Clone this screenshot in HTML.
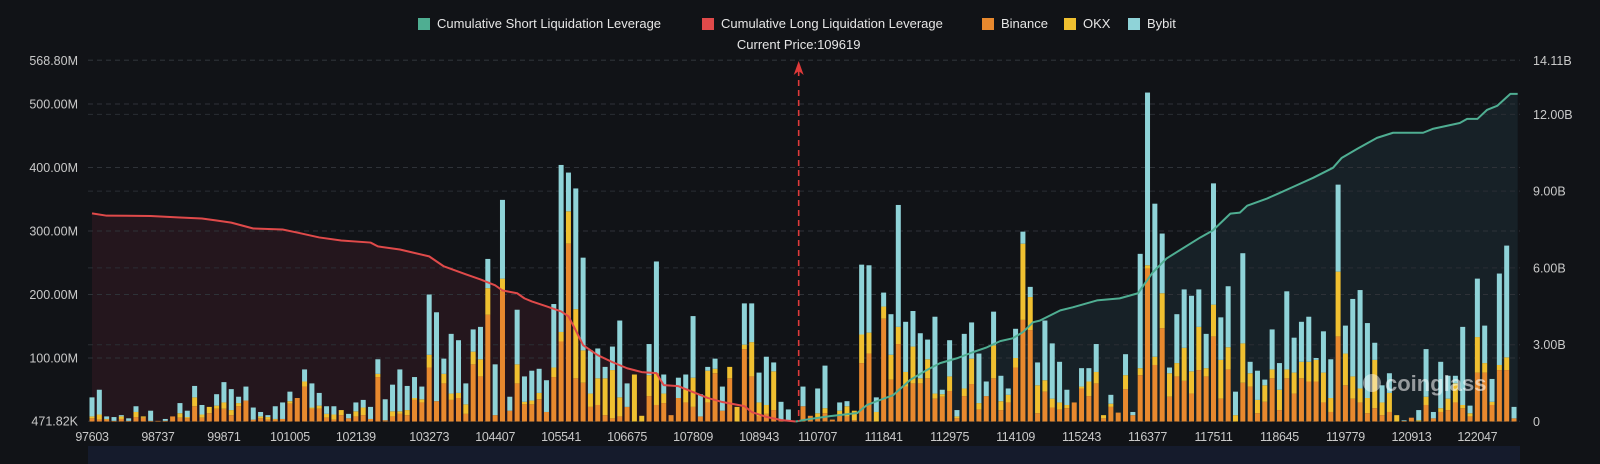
<!DOCTYPE html>
<html><head><meta charset="utf-8">
<style>
html,body{margin:0;padding:0;background:#111317;}
body{width:1600px;height:464px;overflow:hidden;position:relative;font-family:"Liberation Sans",sans-serif;}
#chart{position:absolute;left:0;top:0;}
.legend{position:absolute;top:16px;left:0;width:1600px;height:18px;}
.lg{position:absolute;top:0;display:flex;align-items:center;color:#e6e6e6;font-size:13px;white-space:nowrap;}
.sw{width:12px;height:12px;margin-right:7px;display:inline-block;}
</style></head>
<body>
<div class="legend">
 <div class="lg" style="left:418px"><span class="sw" style="background:#4fae92"></span>Cumulative Short Liquidation Leverage</div>
 <div class="lg" style="left:702px"><span class="sw" style="background:#e04a4a"></span>Cumulative Long Liquidation Leverage</div>
 <div class="lg" style="left:982px"><span class="sw" style="background:#e8892e"></span>Binance</div>
 <div class="lg" style="left:1064px"><span class="sw" style="background:#f0c030"></span>OKX</div>
 <div class="lg" style="left:1128px"><span class="sw" style="background:#8fd3d8"></span>Bybit</div>
</div>
<svg id="chart" width="1600" height="464" xmlns="http://www.w3.org/2000/svg"></svg>
<script>
const binance=[5,3,3,1,4,1,7,6,1,1,1,8,6,5,24,6,13,20,20,10,24,33,3,5,3,3,4,28,37,55,20,20,6,3,10,5,8,10,4,70,2,8,12,10,34,30,85,32,60,34,37,12,90,71,168,10,205,17,60,27,27,35,15,70,126,280,68,61,23,26,10,5,8,23,0,0,40,26,29,10,37,30,23,8,30,76,17,68,0,114,71,8,12,18,3,2,0,24,9,7,13,3,10,8,2,92,107,0,162,66,122,55,60,60,68,36,39,48,5,40,59,19,40,68,18,30,85,160,144,13,47,22,19,21,30,52,40,60,5,23,14,51,10,73,241,89,147,39,71,64,44,81,71,134,36,82,0,61,55,13,31,68,18,68,44,68,63,63,30,15,134,57,36,30,13,21,10,15,0,1,6,0,26,5,15,18,30,21,8,77,77,26,81,81,5];
const okx=[3,8,1,0,4,0,8,2,0,0,0,0,7,2,14,5,10,5,10,8,5,0,0,3,4,1,0,4,0,8,2,5,6,8,8,0,8,12,0,5,0,8,4,8,3,5,20,0,15,10,8,15,20,27,42,0,20,0,30,4,6,10,0,15,15,51,109,51,21,42,58,76,30,0,74,9,33,50,15,0,0,22,46,0,50,7,0,18,23,7,54,22,14,61,0,0,0,0,0,6,8,0,7,16,15,45,33,15,19,39,27,23,58,8,30,8,4,23,3,12,40,10,0,52,14,12,15,120,52,44,18,14,11,5,0,3,23,18,5,5,0,22,0,11,5,13,55,37,21,52,35,68,13,50,61,35,10,62,21,21,26,14,32,14,33,26,31,34,47,22,102,50,35,22,24,76,20,30,10,0,0,2,13,0,6,18,30,5,5,56,15,5,8,20,0];
const bybit=[30,39,4,6,2,4,9,0,16,0,3,0,16,10,18,15,0,18,32,33,10,22,19,7,3,20,26,15,0,19,38,20,12,13,0,7,14,12,19,23,33,42,66,38,33,20,95,140,24,94,83,33,35,51,46,80,124,22,86,40,47,38,50,100,263,61,190,146,68,47,18,37,121,37,0,0,49,176,30,0,32,22,97,35,6,16,38,0,0,65,61,47,76,14,28,17,0,31,0,39,67,0,13,8,0,110,106,23,22,64,192,79,56,71,31,121,7,57,10,86,57,78,23,53,40,10,46,19,16,36,94,87,64,24,0,29,21,44,0,14,0,33,5,180,272,241,94,9,77,92,119,59,54,191,67,96,37,142,18,46,9,63,42,123,55,63,71,3,65,61,137,44,122,155,118,27,27,31,0,1,0,16,75,10,73,36,12,123,12,92,59,36,144,176,18];
const longIdx=[0,2,8,12,15,17,19,22,26,28,31,34,38,39,42,46,48,51,53,55,56,58,59,60,62,64,65,66,67,69,71,73,75,77,78,80,82,84,86,89,90,92,94,96];
const longVal=[8.13,8.04,8.03,7.97,7.93,7.85,7.77,7.54,7.50,7.38,7.19,7.07,6.99,6.84,6.72,6.45,6.06,5.75,5.55,5.32,5.12,5.01,4.81,4.69,4.50,4.30,4.11,3.56,2.98,2.59,2.32,2.08,1.93,1.89,1.42,1.38,1.15,0.92,0.76,0.60,0.37,0.18,0.06,0];
const shortIdx=[96,98,100.7,104.4,105.7,107.5,109.3,111.6,113.9,115.7,118,120.2,122.1,123.9,125.6,127,128.4,129.3,132.1,133.8,137.1,140.2,142.7,144.7,146.6,151.2,152.9,155.3,156.6,157.6,160.3,161.8,163.9,166.6,169.3,170.5,172.6,175.3,177.5,181.6,182.9,186.6,187.6,189,190.3,191.7,193.5,194.5];
const shortVal=[0,0.1,0.21,0.33,0.64,0.84,1.03,1.62,2.01,2.28,2.47,2.71,2.90,3.14,3.25,3.49,3.88,3.94,4.34,4.46,4.73,4.81,5.01,5.82,6.37,7.19,7.46,8.12,8.16,8.43,8.71,8.90,9.17,9.52,9.91,10.3,10.65,11.08,11.28,11.28,11.43,11.66,11.82,11.82,12.17,12.33,12.8,12.8];
const xTickIdx=[0,9,18,27,36,46,55,64,73,82,91,99,108,117,126,135,144,153,162,171,180,189];
const xTickLabels=["97603","98737","99871","101005","102139","103273","104407","105541","106675","107809","108943","110707","111841","112975","114109","115243","116377","117511","118645","119779","120913","122047"];
const leftTickVals=[0.47182,100,200,300,400,500,568.8];
const leftTickLabels=["471.82K","100.00M","200.00M","300.00M","400.00M","500.00M","568.80M"];
const rightTickVals=[0,3,6,9,12,14.11];
const rightTickLabels=["0","3.00B","6.00B","9.00B","12.00B","14.11B"];
const currentIdx=96;
const currentPriceLabel="Current Price:109619";

const NS="http://www.w3.org/2000/svg";
const svg=document.getElementById('chart');
const X0=92,PITCH=7.33,BASE=421.5,TOP=60.3,PL=88,PR=1520;
const xs=i=>X0+i*PITCH;
const yL=v=>BASE-v*(BASE-TOP)/568.8;
const yR=v=>BASE-v*(BASE-TOP)/14.11;
function mk(tag,attrs){const e=document.createElementNS(NS,tag);for(const k in attrs)e.setAttribute(k,attrs[k]);svg.appendChild(e);return e;}

let band=mk('rect',{x:PL,y:446,width:PR-PL,height:18,fill:'#151b2c'});



let lp=`M${xs(longIdx[0])},${BASE} `+longIdx.map((d,k)=>`L${xs(d)},${yR(longVal[k])}`).join(' ')+` L${xs(longIdx[longIdx.length-1])},${BASE} Z`;
let lf=mk('path',{d:lp,fill:'#24161d'});


let sp=`M${xs(shortIdx[0])},${BASE} `+shortIdx.map((d,k)=>`L${xs(d)},${yR(shortVal[k])}`).join(' ')+` L${xs(shortIdx[shortIdx.length-1])},${BASE} Z`;
let sf=mk('path',{d:sp,fill:'#172127'});



leftTickVals.forEach((v,k)=>{
  let g=mk('line',{x1:PL,x2:PR,y1:yL(v),y2:yL(v),stroke:'#2e3238','stroke-dasharray':'5,4','stroke-width':1});
  
  
  let t=mk('text',{x:78,y:yL(v)+4.5,'text-anchor':'end',fill:'#c9c9c9','font-size':'12.5'});
  t.textContent=leftTickLabels[k];
  
  
});
rightTickVals.forEach((v,k)=>{
  if(k>0){let g=mk('line',{x1:PL,x2:PR,y1:yR(v),y2:yR(v),stroke:'#2a2e34','stroke-dasharray':'5,4','stroke-width':1});
  
  }
  let t=mk('text',{x:1533,y:yR(v)+4.5,'text-anchor':'start',fill:'#c9c9c9','font-size':'12.5'});
  t.textContent=rightTickLabels[k];
  
  
});

const BW=5;
for(let i=0;i<binance.length;i++){
  const x=xs(i)-BW/2;
  let y=BASE;
  [[binance[i],'#e8892e','bar-binance'],[okx[i],'#f0c030','bar-okx'],[bybit[i],'#8fd3d8','bar-bybit']].forEach(s=>{
    if(s[0]<=0)return;
    const h=BASE-yL(s[0]);
    y-=h;
    let r=mk('rect',{x:x,y:y,width:BW,height:h,fill:s[1]});
    
    
  });
}

let ll=mk('polyline',{points:longIdx.map((d,k)=>`${xs(d)},${yR(longVal[k])}`).join(' '),fill:'none',stroke:'#e04a4a','stroke-width':2,'stroke-linejoin':'round'});


let sl=mk('polyline',{points:shortIdx.map((d,k)=>`${xs(d)},${yR(shortVal[k])}`).join(' '),fill:'none',stroke:'#4fae92','stroke-width':2,'stroke-linejoin':'round'});



const ax=xs(currentIdx)+3;
let al=mk('line',{x1:ax,x2:ax,y1:70,y2:BASE,stroke:'#e03a3a','stroke-width':1.6,'stroke-dasharray':'6,4'});


let ah=mk('path',{d:`M${ax},61 L${ax-5},75 L${ax},71 L${ax+5},75 Z`,fill:'#e03a3a'});


let ct=mk('text',{x:ax,y:49,'text-anchor':'middle',fill:'#e6e6e6','font-size':'13'});
ct.textContent=currentPriceLabel;



xTickIdx.forEach((d,k)=>{
  let t=mk('text',{x:xs(d),y:441,'text-anchor':'middle',fill:'#c9c9c9','font-size':'12.5','letter-spacing':'-0.3'});
  t.textContent=xTickLabels[k];
  
  
});

let wm=mk('text',{x:1385,y:391,fill:'#ffffff','fill-opacity':'0.55','font-size':'22','font-weight':'bold'});
wm.textContent='coinglass';


let wi=mk('circle',{cx:1372,cy:383,r:9,fill:'#ffffff','fill-opacity':'0.45'});


</script>
</body></html>
